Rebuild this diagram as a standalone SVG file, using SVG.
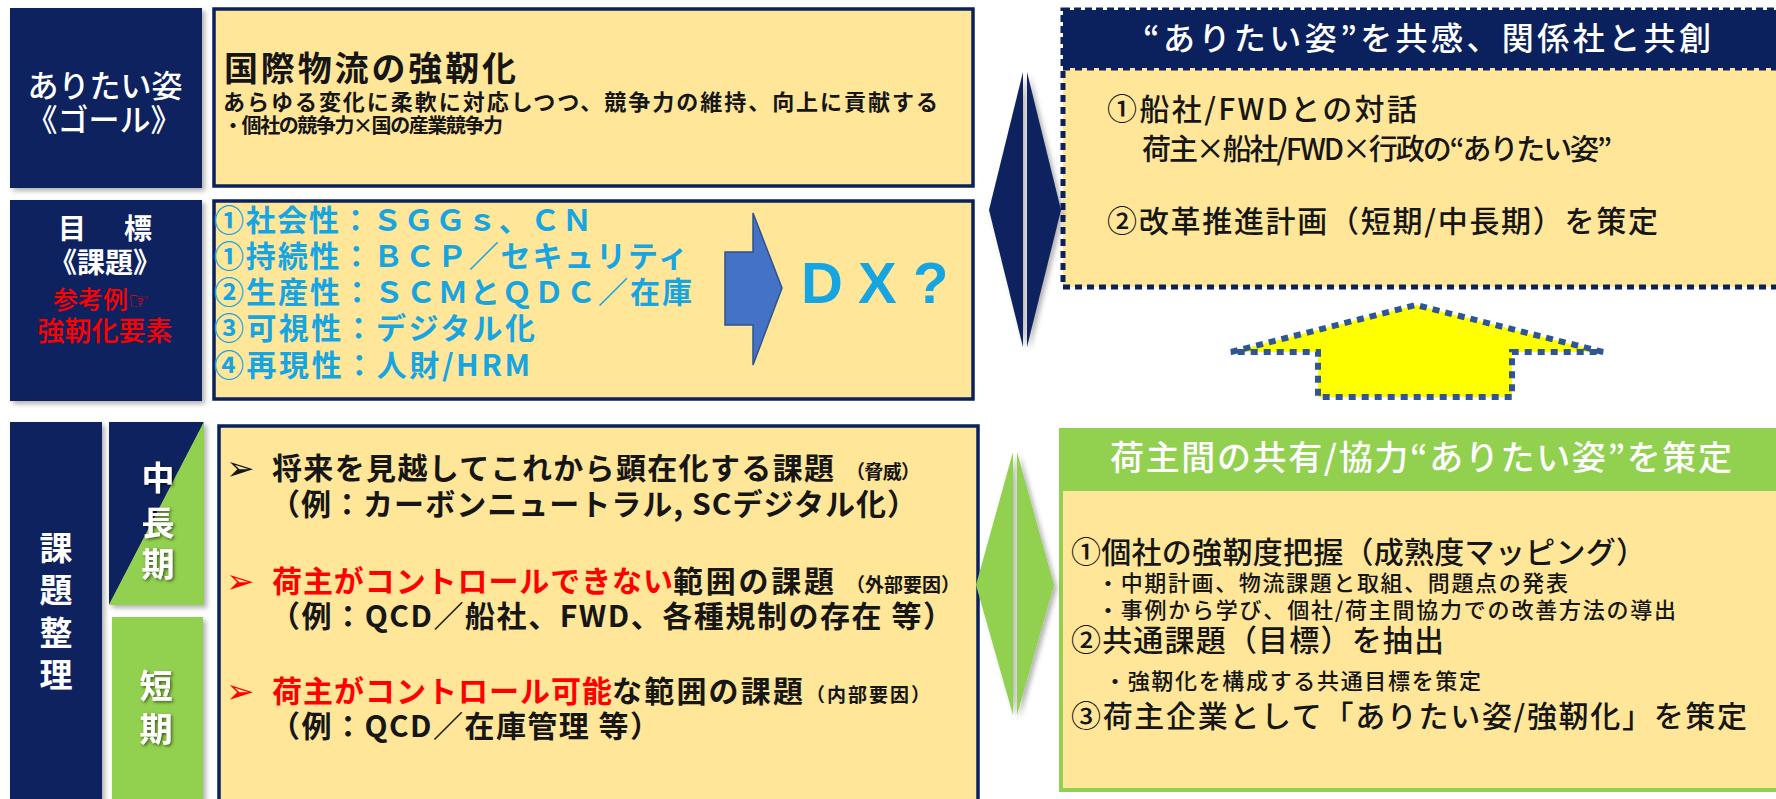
<svg xmlns="http://www.w3.org/2000/svg" width="1776" height="799" viewBox="0 0 1776 799">
<defs>
<style>
.jp{font-family:"Noto Sans CJK JP","Noto Sans",sans-serif;font-weight:700}
.md{font-weight:500}
.w{fill:#ffffff}
.k{fill:#161616}
.r{fill:#ff0000}
.c{fill:#17a5e2}
.navy{fill:#0a215e}
.grn{fill:#92d050}
.ybox{fill:#ffe699;stroke:#0a215e;stroke-width:3.5}
.bul{font-family:"DejaVu Sans",sans-serif;font-weight:700;font-size:34px}
</style>
<filter id="sh" x="-20%" y="-20%" width="140%" height="140%">
<feDropShadow dx="3" dy="3" stdDeviation="2.5" flood-color="#000" flood-opacity="0.3"/>
</filter>
<filter id="tsh" x="-30%" y="-30%" width="160%" height="160%">
<feDropShadow dx="1.5" dy="1.5" stdDeviation="1.5" flood-color="#000" flood-opacity="0.55"/>
</filter>
</defs>
<rect width="1776" height="799" fill="#ffffff"/>

<!-- Row 1 -->
<g id="goal-label">
<rect class="navy" x="10" y="8" width="192" height="180" filter="url(#sh)"/>
<text class="jp md w" x="105" y="97" font-size="31" text-anchor="middle">ありたい姿</text>
<text class="jp md w" x="104" y="131" font-size="31" text-anchor="middle">《ゴール》</text>
</g>
<g id="goal-box">
<rect class="ybox" x="214" y="9" width="759" height="177"/>
<text class="jp k" x="224" y="81" font-size="34" textLength="292">国際物流の強靭化</text>
<text class="jp k" x="223" y="110" font-size="22" textLength="715">あらゆる変化に柔軟に対応しつつ、競争力の維持、向上に貢献する</text>
<text class="jp k" x="223" y="133" font-size="20" textLength="280">・個社の競争力×国の産業競争力</text>
</g>

<!-- Row 2 -->
<g id="target-label">
<rect class="navy" x="10" y="200" width="192" height="201" filter="url(#sh)"/>
<text class="jp w" x="58" y="239" font-size="28" textLength="94">目　標</text>
<text class="jp w" x="105" y="273" font-size="28" text-anchor="middle">《課題》</text>
<text class="jp md r" x="53" y="309" font-size="25">参考例<tspan font-family="DejaVu Sans,sans-serif" font-size="24">☞</tspan></text>
<text class="jp md r" x="105" y="341" font-size="27" text-anchor="middle">強靭化要素</text>
</g>
<g id="target-box">
<rect class="ybox" x="214" y="201" width="759" height="198"/>
<text class="jp c" x="214" y="231" font-size="30" textLength="378">①社会性：ＳＧＧｓ、ＣＮ</text>
<text class="jp c" x="214" y="267" font-size="30" textLength="474">①持続性：ＢＣＰ／セキュリティ</text>
<text class="jp c" x="214" y="303" font-size="30" textLength="478">②生産性：ＳＣＭとＱＤＣ／在庫</text>
<text class="jp c" x="214" y="339" font-size="30" textLength="321">③可視性：デジタル化</text>
<text class="jp c" x="214" y="376" font-size="30" textLength="316">④再現性：人財/HRM</text>
</g>
<g id="dx-arrow">
<polygon points="725,252 753,252 753,213 782,288 753,365 753,325 725,325" fill="#4472c4" stroke="#2f528f" stroke-width="1.5"/>
</g>
<g id="dx-label">
<text x="801 843 858 897 913" y="303" font-family="Liberation Sans,Arial,sans-serif" font-weight="700" font-size="58" fill="#17a5e2">D X ?</text>
</g>

<!-- Top right -->
<g id="cocreate-box">
<rect x="1063" y="10" width="740" height="58" fill="#0a215e" stroke="#0a215e" stroke-width="5" stroke-dasharray="7 4"/>
<rect x="1063" y="68" width="740" height="219" fill="#ffe699" stroke="#0a215e" stroke-width="5" stroke-dasharray="7 5"/>
<text class="jp md w" x="1143" y="50" font-size="32" textLength="568">“ありたい姿”を共感、関係社と共創</text>
<text class="jp md k" x="1107" y="120" font-size="30" textLength="310">①船社/FWDとの対話</text>
<text class="jp md k" x="1142" y="160" font-size="29" textLength="470">荷主×船社/FWD×行政の“ありたい姿”</text>
<text class="jp md k" x="1107" y="232" font-size="30" textLength="551">②改革推進計画（短期/中長期）を策定</text>
</g>

<g id="up-arrow">
<polygon points="1231,352 1416,305 1603,352 1512,352 1512,397 1318,397 1318,352" fill="#ffff00" stroke="#2f5597" stroke-width="6" stroke-dasharray="7 6"/>
</g>

<!-- Row 3 -->
<g id="issues-label">
<rect class="navy" x="10" y="422" width="92" height="390" filter="url(#sh)"/>
<text class="jp w" font-size="33" text-anchor="middle"><tspan x="56" y="560">課</tspan><tspan x="56" y="602">題</tspan><tspan x="56" y="645">整</tspan><tspan x="56" y="687">理</tspan></text>
</g>
<g id="mid-long-label">
<g filter="url(#sh)">
<polygon class="navy" points="109,422 204,422 109,605"/>
<polygon class="grn" points="204,422 204,605 109,605"/>
</g>
<text class="jp w" font-size="33" text-anchor="middle" filter="url(#tsh)"><tspan x="158" y="490">中</tspan><tspan x="158" y="535">長</tspan><tspan x="158" y="576">期</tspan></text>
</g>
<g id="short-label">
<rect class="grn" x="112" y="617" width="91" height="195" filter="url(#sh)"/>
<text class="jp w" font-size="33" text-anchor="middle" filter="url(#tsh)"><tspan x="156" y="698">短</tspan><tspan x="156" y="741">期</tspan></text>
</g>
<g id="issues-box">
<rect class="ybox" x="219" y="426" width="759" height="390"/>
<text class="bul k" x="226" y="480">➢</text>
<text class="jp k" x="272" y="479" font-size="30" textLength="562">将来を見越してこれから顕在化する課題</text>
<text class="jp k" x="846" y="479" font-size="19" textLength="74">（脅威）</text>
<text class="jp k" x="270" y="515" font-size="30" textLength="647">（例：カーボンニュートラル, SCデジタル化）</text>
<text class="bul r" x="226" y="593">➢</text>
<text class="jp r" x="272" y="592" font-size="30" textLength="401">荷主がコントロールできない</text>
<text class="jp k" x="673" y="592" font-size="30" textLength="161">範囲の課題</text>
<text class="jp k" x="846" y="592" font-size="19" textLength="114">（外部要因）</text>
<text class="jp k" x="270" y="627" font-size="30" textLength="683">（例：QCD／船社、FWD、各種規制の存在 等）</text>
<text class="bul r" x="226" y="703">➢</text>
<text class="jp r" x="272" y="702" font-size="30" textLength="340">荷主がコントロール可能</text>
<text class="jp k" x="612" y="702" font-size="30" textLength="191">な範囲の課題</text>
<text class="jp k" x="806" y="702" font-size="19" textLength="124">（内部要因）</text>
<text class="jp k" x="270" y="737" font-size="30" textLength="390">（例：QCD／在庫管理 等）</text>
</g>

<g id="shipper-box">
<rect x="1059" y="428" width="740" height="59" class="grn"/>
<rect x="1061" y="489" width="740" height="301" fill="#ffe699" stroke="#92d050" stroke-width="4"/>
<text class="jp md w" x="1110" y="470" font-size="34" textLength="622">荷主間の共有/協力“ありたい姿”を策定</text>
<text class="jp md k" x="1071" y="563" font-size="30" textLength="575">①個社の強靭度把握（成熟度マッピング）</text>
<text class="jp md k" x="1097" y="591" font-size="22" textLength="471">・中期計画、物流課題と取組、問題点の発表</text>
<text class="jp md k" x="1097" y="618" font-size="22" textLength="579">・事例から学び、個社/荷主間協力での改善方法の導出</text>
<text class="jp md k" x="1071" y="651" font-size="30" textLength="373">②共通課題（目標）を抽出</text>
<text class="jp md k" x="1104" y="689" font-size="22" textLength="377">・強靭化を構成する共通目標を策定</text>
<text class="jp md k" x="1071" y="727" font-size="30" textLength="676">③荷主企業として「ありたい姿/強靭化」を策定</text>
</g>

<!-- Connectors -->
<g id="connectors">
<g filter="url(#sh)">
<polygon points="1023,72 989,210 1023,347" fill="#0a215e"/>
<polygon points="1027,72 1061,210 1027,347" fill="#0a215e"/>
</g>
<g filter="url(#sh)">
<polygon points="1013,452 976,585 1013,715" fill="#92d050"/>
<polygon points="1017,452 1054,585 1017,715" fill="#92d050"/>
</g>
</g>
</svg>
